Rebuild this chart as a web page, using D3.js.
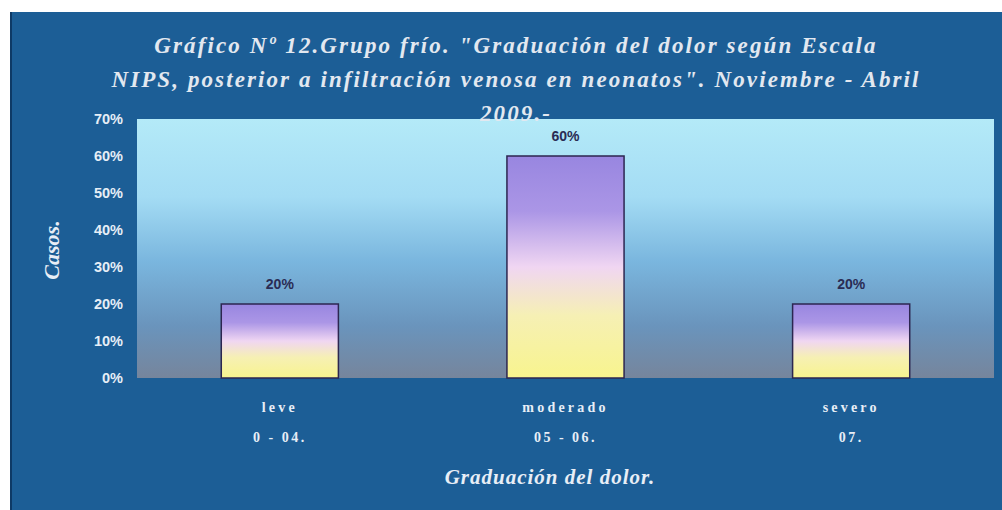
<!DOCTYPE html>
<html>
<head>
<meta charset="utf-8">
<script src="https://cdn.jsdelivr.net/npm/d3@7"></script>
<style>
  body { margin: 0; background: #ffffff; }
  svg { display: block; }
</style>
</head>
<body>
<svg id="chart" width="1002" height="510"></svg>
<script>
// data
const categories = ['leve', 'moderado', 'severo'];
const ranges = ['0 - 04.', '05 - 06.', '07.'];
const values = [0.20, 0.60, 0.20];
const yTicks = [0, 0.1, 0.2, 0.3, 0.4, 0.5, 0.6, 0.7];
const titleLines = [
    'Gráfico Nº 12.Grupo frío. "Graduación del dolor según Escala',
    'NIPS, posterior a infiltración venosa en neonatos". Noviembre - Abril',
    '2009.-'
];

const svg = d3.select('#chart');
const plot = {left: 137, right: 994, top: 119, bottom: 378};

const defs = svg.append('defs');

// plot area gradient: light cyan -> blue -> grey
let g1 = defs.append('linearGradient').attr('id', 'plotBg')
    .attr('x1', 0).attr('y1', 0).attr('x2', 0).attr('y2', 1);
g1.append('stop').attr('offset', '0%').attr('stop-color', '#b4eaf8');
g1.append('stop').attr('offset', '30%').attr('stop-color', '#a4dcf4');
g1.append('stop').attr('offset', '55%').attr('stop-color', '#7ab6de');
g1.append('stop').attr('offset', '80%').attr('stop-color', '#6a94bc');
g1.append('stop').attr('offset', '100%').attr('stop-color', '#76859c');

// bar gradient: purple -> pale pink -> yellow
let g2 = defs.append('linearGradient').attr('id', 'barFill')
    .attr('x1', 0).attr('y1', 0).attr('x2', 0).attr('y2', 1);
g2.append('stop').attr('offset', '0%').attr('stop-color', '#9886e0');
g2.append('stop').attr('offset', '25%').attr('stop-color', '#ab96e6');
g2.append('stop').attr('offset', '50%').attr('stop-color', '#f0d6f2');
g2.append('stop').attr('offset', '72%').attr('stop-color', '#f6f0b4');
g2.append('stop').attr('offset', '100%').attr('stop-color', '#f8f48e');

// outer frame
svg.append('rect')
    .attr('x', 10).attr('y', 12)
    .attr('width', 992).attr('height', 498)
    .attr('fill', '#1c5e96');
svg.append('line')
    .attr('x1', 11).attr('y1', 12).attr('x2', 11).attr('y2', 510)
    .attr('stroke', '#0e3a66').attr('stroke-width', 2);

svg.append('rect')
    .attr('x', plot.left).attr('y', plot.top)
    .attr('width', plot.right - plot.left).attr('height', plot.bottom - plot.top)
    .attr('fill', 'url(#plotBg)');

const x = d3.scaleBand()
    .domain(categories)
    .range([plot.left, plot.right])
    .paddingInner(0.59)
    .paddingOuter(0.295);

const y = d3.scaleLinear()
    .domain([0, 0.7])
    .range([plot.bottom, plot.top]);

// y axis
const yAxis = svg.append('g')
    .attr('transform', 'translate(' + (plot.left - 14) + ',0)')
    .call(d3.axisLeft(y).tickValues(yTicks).tickFormat(d3.format('.0%')).tickSize(0).tickPadding(0));
yAxis.select('.domain').remove();
yAxis.selectAll('text')
    .attr('fill', '#e6eef6')
    .attr('font-family', 'Liberation Sans, Arial, sans-serif')
    .attr('font-weight', 'bold')
    .attr('font-size', 14.5);

// bars
svg.selectAll('rect.bar')
    .data(values)
    .join('rect')
    .attr('class', 'bar')
    .attr('x', (d, i) => x(categories[i]))
    .attr('y', d => y(d))
    .attr('width', x.bandwidth())
    .attr('height', d => y(0) - y(d))
    .attr('fill', 'url(#barFill)')
    .attr('stroke', '#2c2650')
    .attr('stroke-width', 1.5);

// value labels
svg.selectAll('text.val')
    .data(values)
    .join('text')
    .attr('class', 'val')
    .attr('x', (d, i) => x(categories[i]) + x.bandwidth() / 2)
    .attr('y', d => y(d) - 15)
    .attr('text-anchor', 'middle')
    .attr('fill', '#2a2c54')
    .attr('font-family', 'Liberation Sans, Arial, sans-serif')
    .attr('font-weight', 'bold')
    .attr('font-size', 14)
    .text(d => d3.format('.0%')(d));

// category labels (two rows)
const labelFont = 'Liberation Serif, Times New Roman, serif';
svg.selectAll('text.cat')
    .data(categories)
    .join('text')
    .attr('class', 'cat')
    .attr('x', d => x(d) + x.bandwidth() / 2)
    .attr('y', 412)
    .attr('text-anchor', 'middle')
    .attr('fill', '#e8eef6')
    .attr('font-family', labelFont)
    .attr('font-weight', 'bold')
    .attr('font-size', 14)
    .attr('letter-spacing', 3.2)
    .text(d => d);
svg.selectAll('text.rng')
    .data(ranges)
    .join('text')
    .attr('class', 'rng')
    .attr('x', (d, i) => x(categories[i]) + x.bandwidth() / 2)
    .attr('y', 442)
    .attr('text-anchor', 'middle')
    .attr('fill', '#e8eef6')
    .attr('font-family', labelFont)
    .attr('font-weight', 'bold')
    .attr('font-size', 14)
    .attr('letter-spacing', 2.5)
    .text(d => d);

// axis titles
svg.append('text')
    .attr('x', 550).attr('y', 484)
    .attr('text-anchor', 'middle')
    .attr('fill', '#e8eef6')
    .attr('font-family', labelFont)
    .attr('font-style', 'italic')
    .attr('font-weight', 'bold')
    .attr('font-size', 21)
    .attr('letter-spacing', 1)
    .text('Graduación del dolor.');

svg.append('text')
    .attr('transform', 'translate(59,250) rotate(-90)')
    .attr('text-anchor', 'middle')
    .attr('fill', '#e8eef6')
    .attr('font-family', labelFont)
    .attr('font-style', 'italic')
    .attr('font-weight', 'bold')
    .attr('font-size', 22)
    .text('Casos.');

// title
svg.selectAll('text.title')
    .data(titleLines)
    .join('text')
    .attr('class', 'title')
    .attr('x', 516)
    .attr('y', (d, i) => 53 + i * 34)
    .attr('text-anchor', 'middle')
    .attr('fill', '#e2e8f0')
    .attr('font-family', labelFont)
    .attr('font-style', 'italic')
    .attr('font-weight', 'bold')
    .attr('font-size', 23)
    .attr('letter-spacing', 2.1)
    .text(d => d);
</script>
</body>
</html>
